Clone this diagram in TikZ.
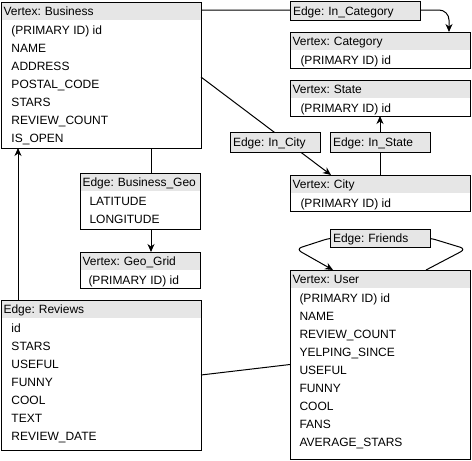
\documentclass[tikz,border=0pt]{standalone}
\usepackage{fontspec}
\setmainfont{Liberation Sans}
\usetikzlibrary{arrows.meta}
\definecolor{hdrgray}{HTML}{E6E6E6}
\begin{document}
\frenchspacing
\hyphenpenalty=10000
\begin{tikzpicture}[x=1pt,y=-1pt,font=\fontsize{12}{14}\selectfont,line width=1pt,
  vbox/.style={draw, fill=white, anchor=north west, inner sep=0pt, outer sep=0pt},
  hdr/.style={fill=hdrgray, anchor=north west, inner xsep=2pt, inner ysep=0pt, outer sep=0pt,
    minimum height=17.5pt, text height=9pt, text depth=0pt, align=left, xshift=0.5pt, yshift=-0.5pt},
  row/.style={anchor=west, inner sep=0pt, text height=9pt, text depth=0pt},
  ebox/.style={draw, fill=hdrgray, anchor=north west, inner xsep=3pt, inner ysep=0pt, outer sep=0pt,
    text height=9pt, text depth=0pt, align=left},
  conn/.style={line width=1pt},
  arr/.style={conn, -{Stealth[length=8pt,width=7pt,inset=2.5pt]}}]
\useasboundingbox (0,0) rectangle (472,461);

% ---------- vertex / edge tables ----------
\node[vbox, minimum width=200pt, minimum height=146pt] (biz) at (1,2) {};
\node[hdr, text width=195pt] (bizh) at (biz.north west) {Vertex: Business};
\foreach \t [count=\i from 0] in {(PRIMARY ID) id,NAME,ADDRESS,POSTAL\_CODE,STARS,REVIEW\_COUNT,IS\_OPEN}
  \node[row] (bizr\i) at (11,29.5+18*\i) {\t};

\node[vbox, minimum width=180pt, minimum height=36pt] (cat) at (290,32) {};
\node[hdr, text width=175pt] (cath) at (cat.north west) {Vertex: Category};
\node[row] (catr) at (300,59.5) {(PRIMARY ID) id};

\node[vbox, minimum width=180pt, minimum height=36pt] (state) at (290,80) {};
\node[hdr, text width=175pt] (stateh) at (state.north west) {Vertex: State};
\node[row] (stater) at (300,107.5) {(PRIMARY ID) id};

\node[vbox, minimum width=180pt, minimum height=36pt] (city) at (290,175) {};
\node[hdr, text width=175pt] (cityh) at (city.north west) {Vertex: City};
\node[row] (cityr) at (300,202.5) {(PRIMARY ID) id};

\node[vbox, minimum width=120pt, minimum height=36pt] (geo) at (80,252) {};
\node[hdr, text width=115pt] (geoh) at (geo.north west) {Vertex: Geo\_Grid};
\node[row] (geor) at (88,279.5) {(PRIMARY ID) id};

\node[vbox, minimum width=200pt, minimum height=150pt] (rev) at (1,300) {};
\node[hdr, text width=195pt] (revh) at (rev.north west) {Edge: Reviews};
\foreach \t [count=\i from 0] in {id,STARS,USEFUL,FUNNY,COOL,TEXT,REVIEW\_DATE}
  \node[row] (revr\i) at (11,327.5+18*\i) {\t};

\node[vbox, minimum width=180pt, minimum height=189pt] (user) at (290,270) {};
\node[hdr, text width=175pt] (userh) at (user.north west) {Vertex: User};
\foreach \t [count=\i from 0] in {(PRIMARY ID) id,NAME,REVIEW\_COUNT,YELPING\_SINCE,USEFUL,FUNNY,COOL,FANS,AVERAGE\_STARS}
  \node[row] (userr\i) at (299,297.5+18*\i) {\t};

% ---------- connectors ----------
\coordinate (catin) at (449,32);
\draw[arr, rounded corners=10pt] (biz.east |- 0,10) -| (catin);
\draw[arr] ([yshift=-75pt]biz.north east) -- ([xshift=41pt]city.north west);
\draw[arr] ([xshift=90pt]city.north west) -- ([xshift=90pt]state.south west);
\draw[arr] ([xshift=150pt]biz.south west) -- ([xshift=71pt]geo.north west);
\draw[arr] ([xshift=17pt]rev.north west) -- ([xshift=17pt]biz.south west);
\draw[conn] (rev.east) -- (user.west);
\draw[arr, rounded corners=6pt] ([xshift=136pt]user.north west) -- (466,249) -- (430,238)
  -- (330,238) -- (296,249) -- ([xshift=43pt]user.north west);

% ---------- edge labels ----------
\node[ebox, text width=124pt, minimum height=19pt] (incat) at (290,1) {Edge: In\_Category};
\node[ebox, text width=84pt, minimum height=20pt] (incity) at (230,132) {Edge: In\_City};
\node[ebox, text width=94pt, minimum height=20pt] (instate) at (330,132) {Edge: In\_State};
\node[ebox, text width=94pt, minimum height=18pt] (friends) at (330,229) {Edge: Friends};

\node[vbox, minimum width=120pt, minimum height=56pt] (bgeo) at (80,173) {};
\node[hdr, text width=115pt] (bgeoh) at (bgeo.north west) {Edge: Business\_Geo};
\node[row] (bgeor0) at (89,200.5) {LATITUDE};
\node[row] (bgeor1) at (89,218.5) {LONGITUDE};
\end{tikzpicture}
\end{document}
